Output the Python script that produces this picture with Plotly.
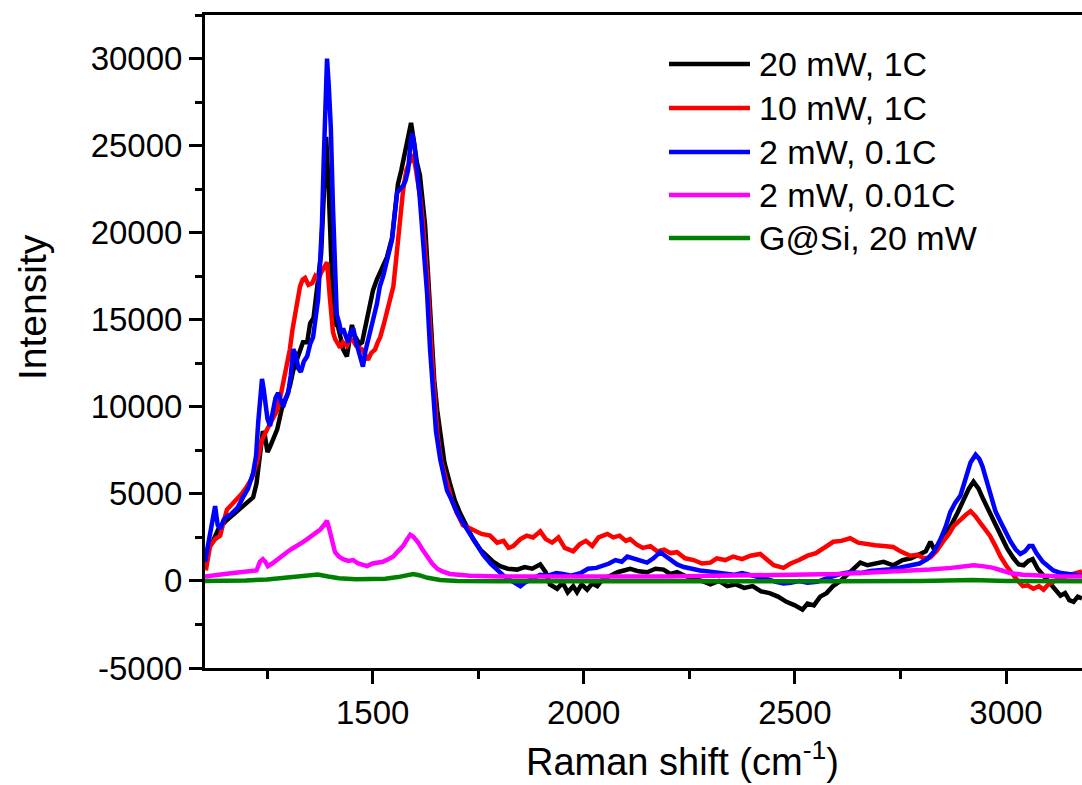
import plotly.graph_objects as go

# ---------------- data ----------------
names = ["20 mW, 1C", "10 mW, 1C", "2 mW, 0.1C", "2 mW, 0.01C", "G@Si, 20 mW"]
colors = ["#000000", "#ff0000", "#0000ff", "#ff00ff", "#008000"]

black_x = [1103,1112,1122,1135,1155,1175,1193,1210,1217,1225,1233,1240,1245,1251,1257,1265,1274,1285,1297,1305,
           1312,1322,1335,1345,1352,1360,1371,1378,1384,1390,1396,1403,1411,1418,1424,1430,1439,1445,1451,1457,
           1463,1469,1475,1481,1487,1494,1501,1510,1522,1534,1546,1553,1560,1568,1577,1584,1591,1598,1605,1612,
           1618,1624,1631,1638,1646,1653,1660,1670,1683,1695,1707,1722,1738,1755,1771,1786,1802,1820,1842,1860,
           1878,1897,1910,1920,1937,1950,1962,1975,1984,1995,2008,2020,2032,2045,2063,2080,2095,2110,2130,2150,
           2170,2189,2205,2221,2240,2260,2280,2300,2320,2340,2360,2380,2400,2420,2440,2460,2480,2500,2518,2530,
           2545,2560,2575,2590,2608,2625,2640,2655,2672,2690,2710,2733,2755,2775,2797,2810,2821,2830,2840,2852,
           2870,2885,2900,2912,2923,2935,2946,2956,2970,2987,3002,3018,3030,3042,3053,3063,3075,3089,3105,3120,
           3129,3140,3150,3160,3170,3180]
black_y = [1000,1900,2300,3000,3500,3900,4300,4600,4800,5600,7200,8600,8300,7400,7700,8200,8700,9900,10600,11300,
           12100,12800,13700,13700,14800,15100,17100,18800,22000,25500,22500,17800,14800,14600,14000,13300,12900,14000,14700,14100,
           13800,13600,13700,14400,15200,16000,16700,17300,17900,18600,19700,21200,22800,23600,24700,25400,26300,25200,24000,23300,
           21800,20500,17700,14500,11500,9800,8500,6800,5600,4600,3900,3100,2400,1800,1400,1100,850,700,650,800,
           700,950,500,-200,-450,-100,-650,-300,-650,-200,-500,-150,-300,100,300,500,600,700,550,500,
           700,650,400,500,300,100,0,-200,0,-300,-200,-400,-300,-600,-700,-900,-1200,-1400,-1650,-1300,
           -1400,-900,-700,-300,0,400,700,1050,900,1000,1100,900,1200,1300,1550,1700,2250,1800,2100,2500,
           3200,3900,4700,5300,5700,5300,4700,4200,3400,2600,1900,1300,950,900,1150,1250,700,300,-200,-600,
           -850,-700,-1100,-1200,-900,-1000]

red_x = [1105,1115,1127,1139,1147,1155,1167,1179,1190,1202,1214,1226,1238,1250,1262,1274,1285,1297,1304,1310,
         1316,1322,1328,1334,1340,1348,1357,1364,1371,1378,1385,1392,1399,1406,1411,1418,1423,1430,1439,1447,
         1454,1461,1468,1475,1482,1489,1497,1506,1512,1518,1526,1534,1541,1549,1555,1560,1566,1572,1580,1589,
         1596,1602,1608,1614,1619,1625,1631,1638,1646,1653,1662,1676,1688,1700,1714,1724,1740,1758,1778,1795,
         1810,1822,1833,1850,1865,1880,1897,1910,1925,1940,1955,1975,1990,2005,2020,2035,2056,2070,2085,2100,
         2110,2125,2140,2158,2174,2190,2205,2221,2240,2260,2280,2300,2315,2335,2354,2375,2395,2418,2435,2450,
         2473,2490,2510,2530,2550,2570,2591,2610,2631,2650,2672,2690,2710,2733,2750,2773,2790,2805,2821,2835,
         2852,2865,2876,2890,2905,2916,2928,2940,2950,2962,2975,2987,3000,3011,3025,3040,3051,3065,3078,3089,
         3100,3115,3129,3145,3160,3180]
red_y = [600,2000,2400,2600,3400,4100,4400,4700,5000,5400,5900,6800,8100,8700,9300,9800,11000,12500,13300,14400,
         15200,16100,16900,17300,17400,17000,17100,17500,17300,17700,18000,18300,16200,14300,13900,13600,13400,13700,13500,13900,
         13800,13500,13400,13300,13000,12700,13100,13300,13700,14000,14700,15400,16100,16900,18300,19600,21000,22400,23600,24200,
         24500,23700,22900,21800,20600,19000,16900,13800,10800,8500,6900,5600,4600,3900,3200,3100,2900,2700,2600,2200,
         2300,1900,2000,2400,2600,2500,2850,2400,2200,2500,1900,1700,2100,2300,2000,2500,2700,2500,2600,2300,
         2400,2100,1900,2000,1700,1800,1600,1650,1300,1200,1000,1050,1300,1200,1400,1250,1450,1550,1200,900,
         750,1000,1200,1450,1600,1900,2250,2300,2450,2200,2100,2050,2000,1950,1700,1450,1500,1300,1350,1700,
         2300,2700,3150,3500,3800,4000,3700,3300,3000,2600,2000,1400,900,500,100,-300,-250,-450,-300,-500,
         -200,0,100,300,400,550]

blue_x = [1103,1110,1115,1121,1127,1133,1139,1147,1155,1163,1169,1180,1193,1205,1217,1224,1229,1234,1238,1242,
          1245,1251,1257,1263,1270,1276,1282,1288,1294,1300,1306,1312,1318,1324,1330,1337,1345,1352,1359,1365,
          1371,1376,1380,1384,1388,1392,1396,1401,1406,1411,1415,1421,1426,1430,1436,1442,1448,1454,1460,1465,
          1471,1477,1483,1490,1496,1503,1510,1517,1525,1532,1540,1546,1552,1558,1565,1572,1578,1584,1590,1594,
          1599,1605,1611,1617,1623,1629,1636,1643,1650,1660,1668,1676,1688,1700,1715,1731,1746,1762,1779,1795,
          1810,1826,1840,1850,1860,1875,1897,1915,1935,1951,1970,1992,2010,2030,2046,2060,2075,2090,2103,2115,
          2130,2150,2165,2181,2195,2210,2221,2237,2255,2275,2295,2316,2335,2355,2375,2395,2415,2435,2455,2473,
          2490,2510,2530,2553,2575,2595,2615,2631,2655,2679,2700,2720,2745,2770,2795,2814,2830,2845,2857,2868,
          2880,2892,2904,2916,2928,2937,2944,2954,2963,2975,2987,2999,3011,3023,3034,3045,3055,3063,3072,3087,
          3100,3112,3130,3146,3165,3180]
blue_y = [1100,2000,2600,3600,4300,3200,3000,3500,3700,3800,3950,4200,4800,5300,6200,7200,9100,10800,11600,11000,
          10200,9300,8900,9700,10500,10800,10300,10000,10500,10800,11800,13300,13000,12200,12000,12600,12900,13600,14000,15000,
          16200,18500,20500,24000,27800,30000,28500,26000,21500,17500,15300,14800,14200,14500,14100,13700,14300,14500,13800,13400,
          12900,12300,13200,14000,14600,15200,15900,16900,17500,18200,18800,19600,21000,22300,22500,22700,23000,23600,25200,25700,
          25000,23700,22200,20300,18600,16500,13300,10700,8600,7000,6000,5200,4600,3900,3300,2700,2100,1500,1000,650,
          300,50,-150,-300,-100,100,350,300,450,400,300,450,700,750,850,1000,1200,1100,1400,1300,
          1200,1050,1300,1650,1400,1150,950,800,700,600,550,500,450,350,450,350,200,100,-50,-150,
          -100,0,-100,-50,150,300,450,500,450,570,600,650,750,850,1000,1260,1700,2400,3100,3950,
          4500,4900,5800,6800,7250,7000,6600,5700,4850,4000,3400,2800,2250,1800,1550,1700,2000,2000,1600,1100,
          800,600,450,400,350,300]

magenta_x = [1103,1115,1130,1150,1170,1190,1210,1225,1233,1240,1246,1252,1262,1274,1285,1297,1309,1321,1333,1345,
             1357,1368,1376,1383,1388,1392,1397,1404,1411,1420,1430,1442,1454,1466,1478,1487,1500,1512,1524,1537,
             1549,1560,1572,1582,1589,1596,1602,1608,1618,1629,1641,1653,1665,1683,1700,1730,1800,1900,2000,2100,
             2200,2300,2400,2500,2600,2680,2750,2820,2870,2900,2923,2945,2970,2990,3010,3040,3080,3130,3180]
magenta_y = [250,300,350,400,450,500,550,600,1100,1250,1100,850,1000,1250,1450,1650,1850,2000,2200,2400,
             2600,2800,2950,3150,3300,3450,3000,2200,1650,1400,1250,1150,1200,1000,900,850,1000,1050,1100,1250,
             1400,1700,2000,2400,2650,2550,2400,2200,1800,1400,1000,700,550,400,350,300,250,230,220,250,
             250,280,300,350,400,480,550,650,750,850,900,850,750,600,450,350,280,250,250]

green_x = [1103,1150,1200,1250,1290,1320,1345,1357,1370,1395,1420,1460,1500,1530,1560,1580,1596,1610,1630,1660,
           1700,1800,2000,2200,2400,2600,2800,2920,3000,3180]
green_y = [0,0,30,80,180,280,370,400,370,250,150,100,80,120,220,350,400,330,180,50,
           0,-20,-30,-30,-30,-20,0,50,0,-20]

y_tickvals = [-5000, 0, 5000, 10000, 15000, 20000, 25000, 30000]
y_ticktext = ["-5000", "0", "5000", "10000", "15000", "20000", "25000", "30000"]
x_tickvals = [1500, 2000, 2500, 3000]
x_ticktext = ["1500", "2000", "2500", "3000"]

series = [(black_x, black_y), (red_x, red_y), (blue_x, blue_y), (magenta_x, magenta_y), (green_x, green_y)]

# ---------------- figure ----------------
FONT = "Liberation Sans, Arial, sans-serif"
fig = go.Figure()
for (xs, ys), nm, c in zip(series, names, colors):
    fig.add_trace(go.Scatter(x=xs, y=ys, mode="lines", name=nm,
                             line=dict(color=c, width=4.5), showlegend=False))

W, H = 1082, 785
L, R, T, B = 205, 0, 15, 117
pw, ph = W - L - R, H - T - B

def px(xp):
    return (xp - L) / pw

def py(yp):
    return (H - B - yp) / ph

# manual legend
leg_rows = [64, 108, 152, 195, 238]
for nm, c, yr in zip(names, colors, leg_rows):
    fig.add_shape(type="line", xref="paper", yref="paper",
                  x0=px(669), x1=px(750), y0=py(yr), y1=py(yr),
                  line=dict(color=c, width=4.5))
    fig.add_annotation(xref="paper", yref="paper", x=px(757), y=py(yr),
                       text=nm, showarrow=False, xanchor="left", yanchor="middle",
                       font=dict(family=FONT, size=34, color="black"))

# axis titles
fig.add_annotation(xref="paper", yref="paper", x=px(682), y=py(759),
                   text="Raman shift (cm<sup>-1</sup>)", showarrow=False,
                   xanchor="center", yanchor="middle",
                   font=dict(family=FONT, size=38, color="black"))
fig.add_annotation(xref="paper", yref="paper", x=px(32), y=py(307),
                   text="Intensity", showarrow=False, textangle=-90,
                   xanchor="center", yanchor="middle",
                   font=dict(family=FONT, size=39, color="black"))

fig.update_layout(
    width=W, height=H,
    margin=dict(l=L, r=R, t=T, b=B, pad=0),
    paper_bgcolor="white", plot_bgcolor="white",
    font=dict(family=FONT, size=33, color="black"),
    xaxis=dict(range=[1103, 3180], tickmode="array", tickvals=x_tickvals, ticktext=x_ticktext,
               showline=True, linecolor="black", linewidth=3, mirror=True,
               ticks="outside", ticklen=13, tickwidth=3, tickcolor="black",
               showgrid=False, zeroline=False,
               tickfont=dict(family=FONT, size=33, color="black"),
               minor=dict(tickmode="linear", tick0=0, dtick=250, ticks="outside",
                          ticklen=8, tickwidth=3, tickcolor="black", showgrid=False)),
    yaxis=dict(range=[-5000, 32500], tickmode="array", tickvals=y_tickvals, ticktext=y_ticktext,
               showline=True, linecolor="black", linewidth=3, mirror=False,
               ticks="outside", ticklen=13, tickwidth=3, tickcolor="black",
               showgrid=False, zeroline=False,
               tickfont=dict(family=FONT, size=33, color="black"),
               minor=dict(tickmode="linear", tick0=0, dtick=2500, ticks="outside",
                          ticklen=7, tickwidth=3, tickcolor="black", showgrid=False)),
)

fig.write_html("out.html")
